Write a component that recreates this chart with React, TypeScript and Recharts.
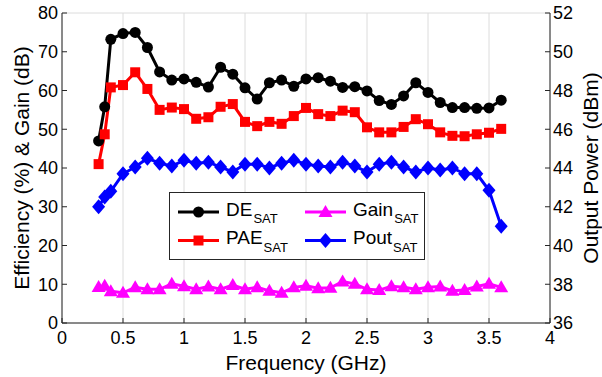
import React from 'react';
import {
  ComposedChart,
  Line,
  XAxis,
  YAxis,
  CartesianGrid,
} from 'recharts';

// frequency points (GHz)
const freq = [
  0.3, 0.35, 0.4, 0.5, 0.6, 0.7, 0.8, 0.9, 1.0, 1.1, 1.2, 1.3, 1.4, 1.5, 1.6, 1.7, 1.8, 1.9, 2.0,
  2.1, 2.2, 2.3, 2.4, 2.5, 2.6, 2.7, 2.8, 2.9, 3.0, 3.1, 3.2, 3.3, 3.4, 3.5, 3.6,
];
const deSat = [
  47.0, 55.8, 73.2, 74.7, 75.0, 71.1, 64.8, 62.7, 63.0, 62.1, 60.9, 66.0, 64.2, 60.7, 57.8, 62.0, 62.7, 61.1, 63.0,
  63.3, 62.4, 60.8, 61.0, 59.9, 57.4, 56.4, 58.6, 62.0, 59.5, 56.9, 55.6, 55.6, 55.4, 55.5, 57.5,
];
const paeSat = [
  41.0, 48.7, 60.8, 61.4, 64.7, 60.4, 55.0, 55.6, 55.2, 52.7, 53.1, 55.8, 56.5, 51.9, 50.8, 51.9, 51.4, 53.4, 55.5,
  53.9, 53.4, 54.8, 54.4, 50.5, 49.2, 49.2, 50.6, 52.6, 51.3, 49.2, 48.3, 48.2, 48.7, 49.1, 50.1,
];
const gainSat = [
  9.3, 9.6, 8.2, 7.8, 9.2, 8.7, 8.7, 10.1, 9.5, 8.7, 9.4, 8.7, 9.8, 8.7, 9.2, 8.3, 7.8, 9.2, 9.6,
  9.0, 9.1, 10.7, 10.1, 8.7, 8.5, 9.5, 9.2, 8.7, 9.2, 9.4, 8.3, 8.5, 9.4, 10.1, 9.2,
];
const poutSat = [
  42.0, 42.5, 42.8, 43.7, 44.05, 44.5, 44.25, 44.1, 44.4, 44.25, 44.3, 44.05, 43.8, 44.2, 44.2, 44.0, 44.25, 44.4, 44.2,
  44.1, 44.05, 44.3, 44.1, 43.8, 44.2, 44.3, 44.05, 43.8, 44.0, 43.9, 44.0, 43.7, 43.7, 42.85, 41.0,
];

const xTicks = [0, 0.5, 1, 1.5, 2, 2.5, 3, 3.5, 4];
const leftTicks = [0, 10, 20, 30, 40, 50, 60, 70, 80];
const rightTicks = [36, 38, 40, 42, 44, 46, 48, 50, 52];

const data = freq.map((f, i) => ({
  f,
  de: deSat[i],
  pae: paeSat[i],
  gain: gainSat[i],
  pout: poutSat[i],
}));

const FONT = '"Liberation Sans", Arial, Helvetica, sans-serif';
const AX = '#262626';

const circle = (cx: number, cy: number, color: string, key?: string) => (
  <circle key={key} cx={cx} cy={cy} r={5.5} fill={color} />
);
const square = (cx: number, cy: number, color: string, key?: string) => (
  <rect key={key} x={cx - 5} y={cy - 5} width={10} height={10} fill={color} />
);
const triangle = (cx: number, cy: number, color: string, key?: string) => (
  <polygon key={key} points={`${cx},${cy - 7} ${cx - 7},${cy + 5} ${cx + 7},${cy + 5}`} fill={color} />
);
const diamond = (cx: number, cy: number, color: string, key?: string) => (
  <polygon key={key} points={`${cx},${cy - 7.5} ${cx + 6.5},${cy} ${cx},${cy + 7.5} ${cx - 6.5},${cy}`} fill={color} />
);

const makeDot = (shape: typeof circle, color: string, name: string) => (p: any) =>
  shape(p.cx, p.cy, color, `${name}-${p.index}`);

const legendItems = [
  { label: 'DE', color: '#000000', shape: circle, col: 0, row: 0 },
  { label: 'PAE', color: '#ff0000', shape: square, col: 0, row: 1 },
  { label: 'Gain', color: '#ff00ff', shape: triangle, col: 1, row: 0 },
  { label: 'Pout', color: '#0000ff', shape: diamond, col: 1, row: 1 },
];

const ChartLegend = () => (
  <svg width={256} height={68} style={{ position: 'absolute', left: 169, top: 192, display: 'block' }}>
    <rect x={0.5} y={0.5} width={255} height={67} fill="#fff" stroke={AX} strokeWidth={1} />
    {legendItems.map((it) => {
      const x0 = it.col === 0 ? 9 : 136;
      const y = it.row === 0 ? 20 : 48.5;
      return (
        <g key={it.label}>
          <line x1={x0} y1={y} x2={x0 + 41} y2={y} stroke={it.color} strokeWidth={3} />
          {it.shape(x0 + 20.5, y, it.color)}
          <text x={x0 + 48} y={y + 3.5} fontFamily={FONT} fontSize={19} fill="#000">
            {it.label}
            <tspan fontSize={13} dx={1} dy={7.5}>SAT</tspan>
          </text>
        </g>
      );
    })}
  </svg>
);

const leftLabel = (props: any) => {
  const vb = props.viewBox || { y: 13, height: 310 };
  const cy = vb.y + vb.height / 2;
  return (
    <text x={21} y={cy} transform={`rotate(-90 21 ${cy})`} textAnchor="middle" dominantBaseline="central"
      fontFamily={FONT} fontSize={21} fill="#000">
      Efficiency (%) &amp; Gain (dB)
    </text>
  );
};

const rightLabel = (props: any) => {
  const vb = props.viewBox || { y: 13, height: 310 };
  const cy = vb.y + vb.height / 2;
  return (
    <text x={590} y={cy} transform={`rotate(-90 590 ${cy})`} textAnchor="middle" dominantBaseline="central"
      fontFamily={FONT} fontSize={21} fill="#000">
      Output Power (dBm)
    </text>
  );
};

const bottomLabel = (props: any) => {
  const vb = props.viewBox || { x: 62, width: 488 };
  const cx = vb.x + vb.width / 2;
  return (
    <text x={cx} y={370} textAnchor="middle" fontFamily={FONT} fontSize={21} fill="#000">
      Frequency (GHz)
    </text>
  );
};

const tickStyle = { fontFamily: FONT, fontSize: 18, fill: '#000' };
const tickLineStyle = { stroke: AX, strokeWidth: 1 };

export default function App() {
  return (
    <div style={{ position: 'absolute', left: 0, top: 0, width: 602, height: 377, background: '#fff' }}>
      <ComposedChart width={602} height={377} data={data} margin={{ top: 13, right: 0, left: 0, bottom: 0 }}>
        <CartesianGrid stroke="#dcdcdc" strokeWidth={1} />
        <XAxis
          dataKey="f"
          type="number"
          domain={[0, 4]}
          ticks={xTicks}
          allowDataOverflow
          height={54}
          stroke={AX}
          tickLine={tickLineStyle}
          tickSize={-5}
          tickMargin={13}
          tick={tickStyle}
          label={bottomLabel}
        />
        <XAxis xAxisId="top" orientation="top" dataKey="f" type="number" domain={[0, 4]} ticks={xTicks}
          height={0} tick={false} tickLine={tickLineStyle} tickSize={-5} stroke={AX} />
        <YAxis
          yAxisId="left"
          domain={[0, 80]}
          ticks={leftTicks}
          width={62}
          stroke={AX}
          tickLine={tickLineStyle}
          tickSize={-5}
          tickMargin={9}
          tick={tickStyle}
          label={leftLabel}
        />
        <YAxis
          yAxisId="right"
          orientation="right"
          domain={[36, 52]}
          ticks={rightTicks}
          width={52}
          stroke={AX}
          tickLine={tickLineStyle}
          tickSize={-5}
          tickMargin={8}
          tick={tickStyle}
          label={rightLabel}
        />
        <Line yAxisId="left" dataKey="de" stroke="#000000" strokeWidth={3} isAnimationActive={false}
          dot={makeDot(circle, '#000000', 'de')} />
        <Line yAxisId="left" dataKey="pae" stroke="#ff0000" strokeWidth={3} isAnimationActive={false}
          dot={makeDot(square, '#ff0000', 'pae')} />
        <Line yAxisId="left" dataKey="gain" stroke="#ff00ff" strokeWidth={3} isAnimationActive={false}
          dot={makeDot(triangle, '#ff00ff', 'gain')} />
        <Line yAxisId="right" dataKey="pout" stroke="#0000ff" strokeWidth={3} isAnimationActive={false}
          dot={makeDot(diamond, '#0000ff', 'pout')} />
      </ComposedChart>
      <ChartLegend />
    </div>
  );
}
